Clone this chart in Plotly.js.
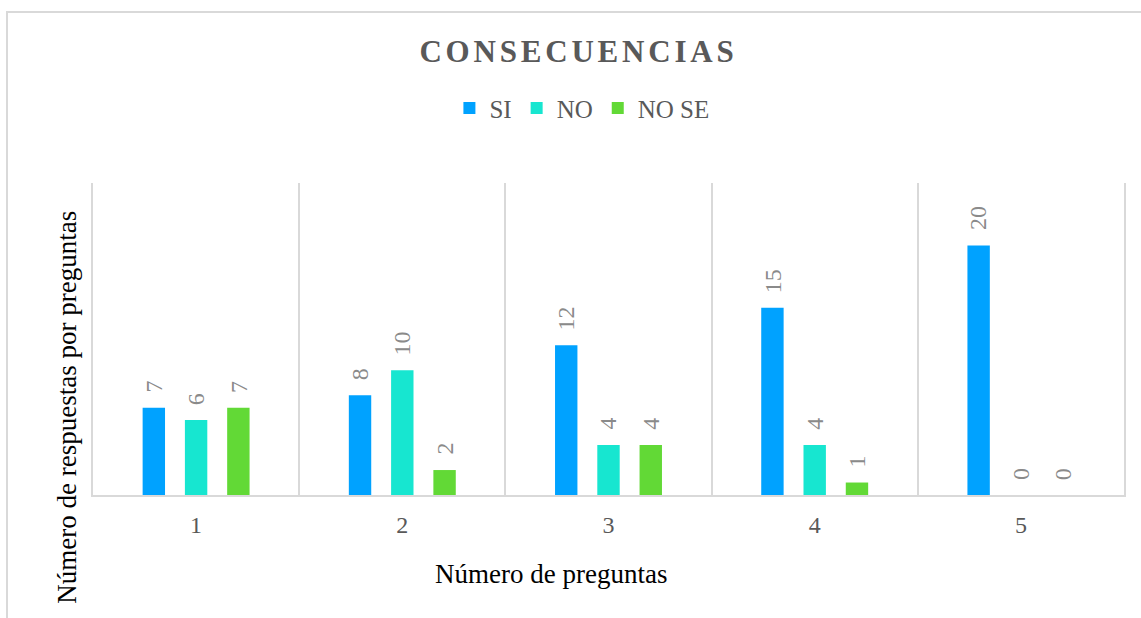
<!DOCTYPE html>
<html>
<head>
<meta charset="utf-8">
<script src="https://cdn.plot.ly/plotly-3.0.1.min.js"></script>
<style>
  html, body { margin: 0; padding: 0; background: #fff; overflow: hidden; }
  #wrap { position: relative; width: 1141px; height: 618px; }
  #chart { width: 1141px; height: 618px; }
  #frame { position: absolute; left: 6px; top: 11px; width: 2000px; height: 2000px;
           border-top: 2px solid #d9d9d9; border-left: 2px solid #d9d9d9; pointer-events: none; }
  .gtitle { letter-spacing: 3.8px; }
</style>
</head>
<body>
<div id="wrap">
  <div id="chart"></div>
  <div id="frame"></div>
</div>
<script>
const categories = ["1", "2", "3", "4", "5"];
const seriesNames = ["SI", "NO", "NO SE"];
const valuesSI = [7, 8, 12, 15, 20];
const valuesNO = [6, 10, 4, 4, 0];
const valuesNOSE = [7, 2, 4, 1, 0];
const colors = ["#00a2ff", "#17e6d0", "#62d936"];

const seriesValues = [valuesSI, valuesNO, valuesNOSE];
const serif = "Liberation Serif";
const bargap = 0.385;
const nSeries = seriesValues.length;

const traces = seriesValues.map((vals, i) => ({
  type: "bar",
  name: seriesNames[i],
  x: categories,
  y: vals,
  marker: { color: colors[i] },
  hoverinfo: "x+y+name"
}));

// data labels: rotated, placed above each bar via the axis scales
const slot = (1 - bargap) / nSeries;
const labelAnnotations = [];
seriesValues.forEach((vals, i) => {
  vals.forEach((v, j) => {
    labelAnnotations.push({
      text: String(v),
      xref: "x", yref: "y",
      x: j + (i - (nSeries - 1) / 2) * slot,
      y: v,
      xanchor: "center", yanchor: "bottom",
      yshift: 13,
      textangle: -90,
      showarrow: false,
      font: { family: serif, size: 24, color: "#8a8a8a" }
    });
  });
});

const layout = {
  width: 1141,
  height: 618,
  margin: { l: 93, r: 16.5, t: 183, b: 122.5 },
  paper_bgcolor: "#ffffff",
  plot_bgcolor: "#ffffff",
  font: { family: serif, color: "#595959" },
  barmode: "group",
  bargap: bargap,
  bargroupgap: 0.47,
  title: {
    text: "<b>CONSECUENCIAS</b>",
    font: { family: serif, size: 31, color: "#595959" },
    xref: "container", x: 0.507, xanchor: "center",
    yref: "container", y: 0.918, yanchor: "middle"
  },
  showlegend: true,
  legend: {
    orientation: "h",
    xref: "container", x: 0.510, xanchor: "center",
    yref: "container", y: 0.825, yanchor: "middle",
    font: { family: serif, size: 25, color: "#595959" },
    itemwidth: 30,
    traceorder: "normal"
  },
  xaxis: {
    type: "category",
    tickson: "boundaries",
    showgrid: true,
    gridcolor: "#d9d9d9",
    gridwidth: 2,
    showline: true,
    linecolor: "#d9d9d9",
    linewidth: 2,
    ticks: "",
    ticklabelstandoff: 7,
    tickfont: { family: serif, size: 24, color: "#595959" },
    zeroline: false
  },
  yaxis: {
    range: [0, 25],
    showticklabels: false,
    showgrid: false,
    zeroline: false,
    showline: true,
    mirror: true,
    linecolor: "#d9d9d9",
    linewidth: 2,
    ticks: ""
  },
  annotations: labelAnnotations.concat([
    {
      text: "Número de preguntas",
      xref: "paper", yref: "paper",
      x: 0.444, y: -0.254, xanchor: "center", yanchor: "middle",
      showarrow: false,
      font: { family: serif, size: 27, color: "#000000" }
    },
    {
      text: "Número de respuestas por preguntas",
      xref: "paper", yref: "paper",
      x: -0.0252, y: 0.28, xanchor: "center", yanchor: "middle",
      textangle: -90,
      showarrow: false,
      font: { family: serif, size: 27, color: "#000000" }
    }
  ])
};

Plotly.newPlot("chart", traces, layout, { displayModeBar: false, staticPlot: true });
</script>
</body>
</html>
